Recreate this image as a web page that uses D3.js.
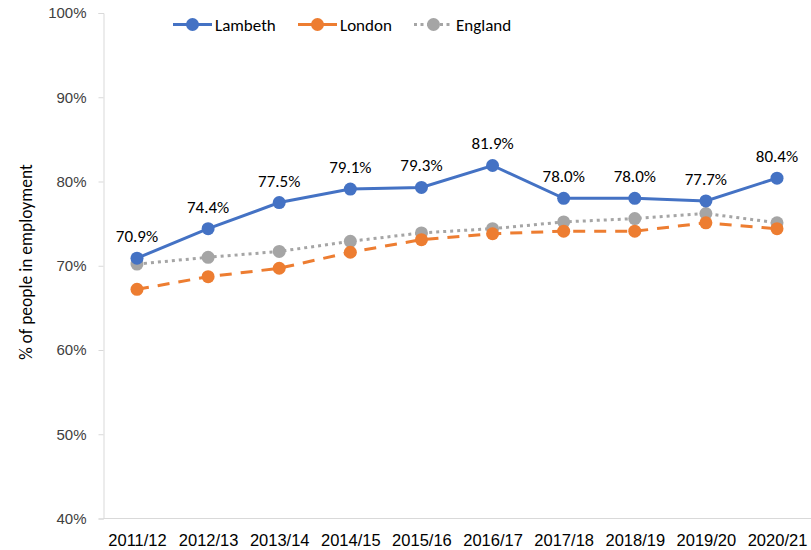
<!DOCTYPE html>
<html><head><meta charset="utf-8">
<script src="https://cdn.jsdelivr.net/npm/d3@7"></script>
<style>body{margin:0;background:#fff;} svg{display:block;font-family:Carlito,Lato,"Liberation Sans",sans-serif;}</style>
</head><body><svg id="c" width="811" height="550"></svg>
<script>
const categories = ["2011/12","2012/13","2013/14","2014/15","2015/16","2016/17","2017/18","2018/19","2019/20","2020/21"];
const lambeth = [70.9,74.4,77.5,79.1,79.3,81.9,78.0,78.0,77.7,80.4];
const london  = [67.2,68.7,69.7,71.6,73.1,73.8,74.1,74.1,75.1,74.4];
const england = [70.2,71.0,71.7,72.9,73.9,74.4,75.2,75.6,76.2,75.1];
const yTicks = [40,50,60,70,80,90,100];
const seriesNames = ["Lambeth","London","England"];

const svg = d3.select("#c");
const x = d3.scalePoint().domain(categories).range([137,777]);
const y = d3.scaleLinear().domain([40,100]).range([518.5,13]);
const axisColor = "#d9d9d9";
const textColor = "#404040";

// y axis
const ya = svg.append("g").attr("transform","translate(103.5,0)")
  .call(d3.axisLeft(y).tickValues(yTicks).tickFormat(d=>d+"%").tickSize(5).tickPadding(12));
ya.select(".domain").attr("stroke",axisColor);
ya.selectAll(".tick line").attr("stroke",axisColor);
ya.selectAll("text").attr("fill",textColor).style("font-size","15px");

// x axis
const xa = svg.append("g").attr("transform","translate(0,518.5)")
  .call(d3.axisBottom(x).tickSize(0).tickPadding(16));
xa.select(".domain").attr("stroke",axisColor).attr("d","M103.5,0H811");
xa.selectAll("text").attr("fill","#000").style("font-size","16.5px");

// y title
svg.append("text").attr("transform","translate(32,262) rotate(-90)")
  .attr("text-anchor","middle").attr("fill","#000").style("font-size","17.5px")
  .text("% of people in employment");

const series = [
  {name:"England", vals:england, color:"#A5A5A5", dash:"3,4"},
  {name:"London", vals:london, color:"#ED7D31", dash:"12,9"},
  {name:"Lambeth", vals:lambeth, color:"#4472C4", dash:null}
];
const line = d3.line().x((d,i)=>x(categories[i])).y(d=>y(d));
series.forEach(s=>{
  const p = svg.append("path").datum(s.vals).attr("d",line).attr("fill","none")
    .attr("stroke",s.color).attr("stroke-width",3);
  if(s.dash) p.attr("stroke-dasharray",s.dash);
  svg.selectAll(null).data(s.vals).enter().append("circle")
    .attr("cx",(d,i)=>x(categories[i])).attr("cy",d=>y(d)).attr("r",6.5).attr("fill",s.color);
});

// data labels
svg.selectAll(null).data(lambeth).enter().append("text")
  .attr("x",(d,i)=>x(categories[i])).attr("y",d=>y(d)-16)
  .attr("text-anchor","middle").attr("fill","#000").style("font-size","17px")
  .text(d=>d.toFixed(1)+"%");

// legend
const leg = [
  {name:"Lambeth", color:"#4472C4", dash:null, x:173},
  {name:"London", color:"#ED7D31", dash:"12,9", x:298},
  {name:"England", color:"#A5A5A5", dash:"3,4", x:414}
];
leg.forEach(l=>{
  const g = svg.append("g").attr("transform",`translate(${l.x},24.5)`);
  const ln = g.append("line").attr("x1",0).attr("x2",39).attr("stroke",l.color).attr("stroke-width",3);
  if(l.dash) ln.attr("stroke-dasharray", l.name==="London" ? "39" : "3,3.5");
  g.append("circle").attr("cx",19.5).attr("r",6.5).attr("fill",l.color);
  g.append("text").attr("x",42).attr("y",6).attr("fill","#000").style("font-size","17px").text(l.name);
});
</script></body></html>
